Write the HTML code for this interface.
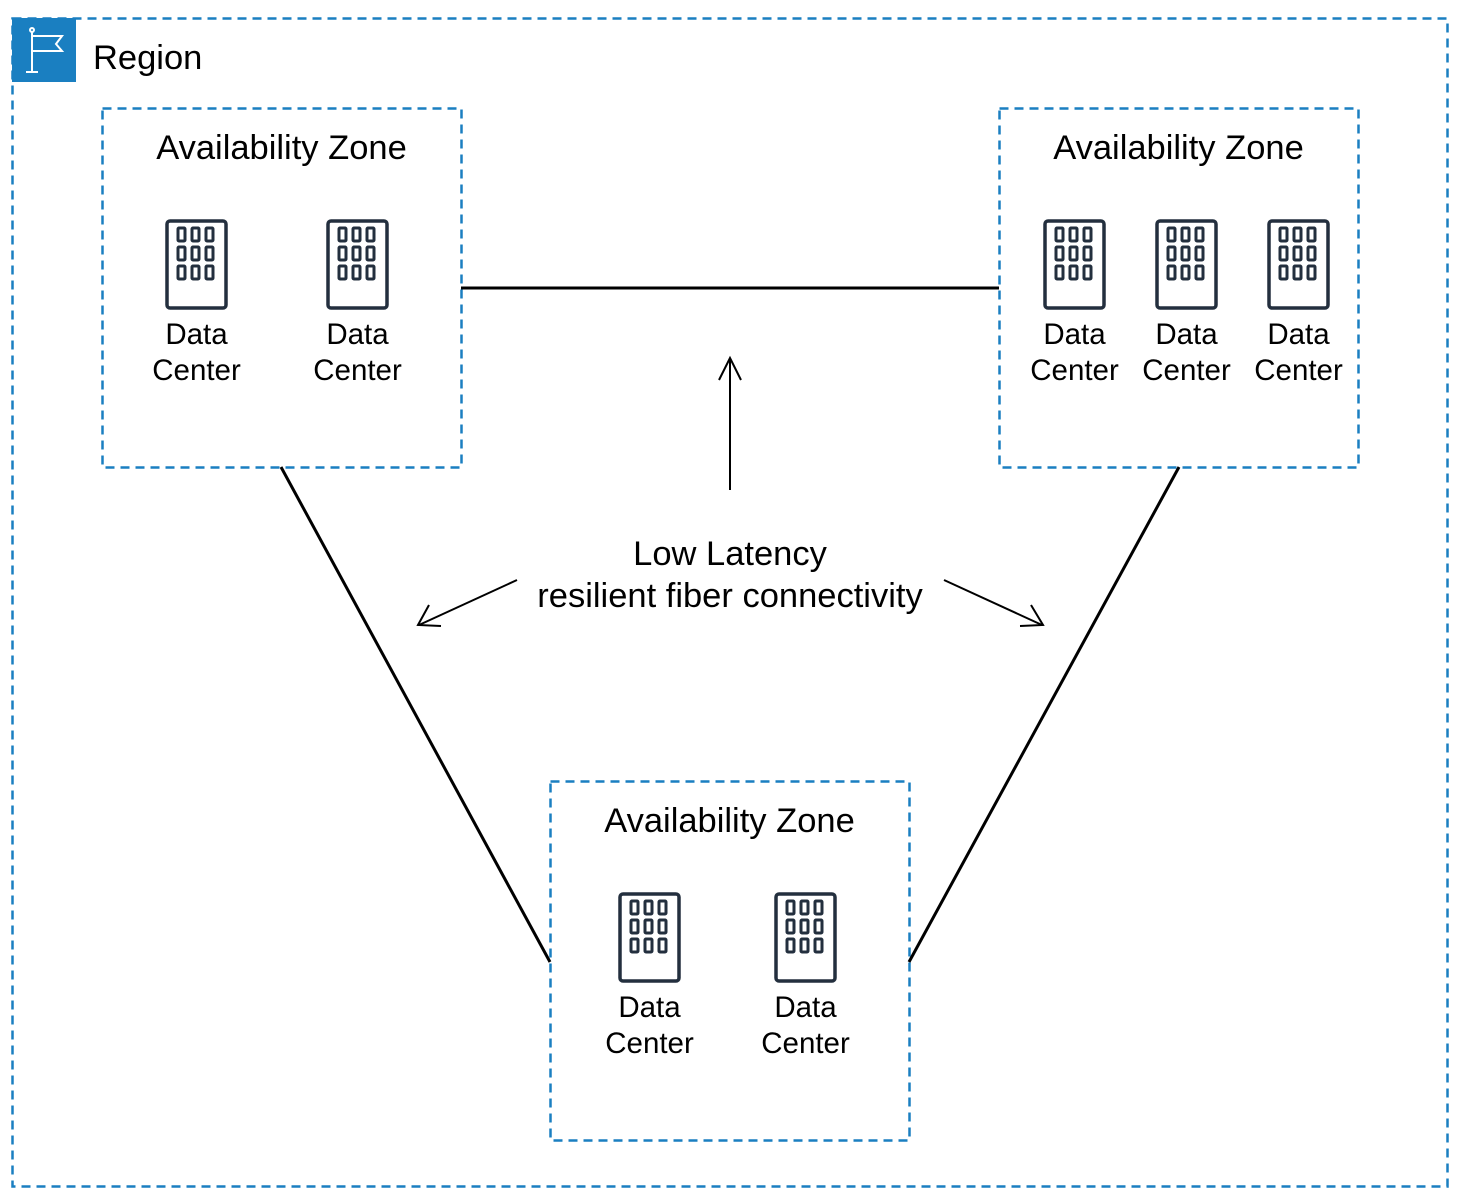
<!DOCTYPE html>
<html><head><meta charset="utf-8"><style>
html,body{margin:0;padding:0;background:#fff;}
svg{display:block;}
text{font-family:"Liberation Sans",Arial,sans-serif;fill:#000;}
</style></head><body>
<svg width="1462" height="1204" viewBox="0 0 1462 1204" xmlns="http://www.w3.org/2000/svg">
<defs>
<g id="dc">
<rect x="-29.5" y="1" width="59" height="87" rx="3" fill="none" stroke="#232f3e" stroke-width="3.5"/>
<g fill="none" stroke="#232f3e" stroke-width="3">
<rect x="-18.5" y="8" width="7" height="13" rx="1"/><rect x="-4.5" y="8" width="7" height="13" rx="1"/><rect x="9.5" y="8" width="7" height="13" rx="1"/>
<rect x="-18.5" y="27" width="7" height="13" rx="1"/><rect x="-4.5" y="27" width="7" height="13" rx="1"/><rect x="9.5" y="27" width="7" height="13" rx="1"/>
<rect x="-18.5" y="46" width="7" height="13" rx="1"/><rect x="-4.5" y="46" width="7" height="13" rx="1"/><rect x="9.5" y="46" width="7" height="13" rx="1"/>
</g>
<text x="0" y="124" font-size="29.5" text-anchor="middle">Data</text>
<text x="0" y="160" font-size="29.5" text-anchor="middle">Center</text>
</g>
</defs>
<g fill="none" stroke="#1a7fc1" stroke-width="2.5" stroke-dasharray="9,6">
<rect x="12.5" y="18.5" width="1435" height="1168"/>
<rect x="102.5" y="108.5" width="359" height="359"/>
<rect x="999.5" y="108.5" width="359" height="359"/>
<rect x="550.5" y="781.5" width="359" height="359"/>
</g>
<rect x="12" y="18" width="64" height="64" fill="#1a7fc1"/>
<g stroke="#fff" stroke-width="2" fill="none">
<line x1="32" y1="32" x2="32" y2="72"/>
<line x1="26" y1="72" x2="38" y2="72"/>
<circle cx="32" cy="30" r="2"/>
<path d="M32 36 H62 L56 44 L62 51 H32"/>
</g>
<text x="93" y="69" font-size="34.5">Region</text>
<text x="281.5" y="159" font-size="34.5" text-anchor="middle">Availability Zone</text>
<text x="1178.5" y="159" font-size="34.5" text-anchor="middle">Availability Zone</text>
<text x="729.5" y="832" font-size="34.5" text-anchor="middle">Availability Zone</text>
<use href="#dc" x="196.5" y="220"/>
<use href="#dc" x="357.5" y="220"/>
<use href="#dc" x="1074.5" y="220"/>
<use href="#dc" x="1186.5" y="220"/>
<use href="#dc" x="1298.5" y="220"/>
<use href="#dc" x="649.5" y="893"/>
<use href="#dc" x="805.5" y="893"/>
<g stroke="#000" fill="none">
<line x1="461" y1="288" x2="999" y2="288" stroke-width="3"/>
<line x1="281" y1="467" x2="550" y2="962" stroke-width="3"/>
<line x1="1179" y1="467" x2="909" y2="962" stroke-width="3"/>
<g stroke-width="2">
<line x1="730" y1="490" x2="730" y2="358"/>
<path d="M719 380 L730 358 L741 380"/>
<line x1="517" y1="580" x2="419" y2="625"/>
<path d="M429 605 L418 625 L441 626"/>
<line x1="944" y1="580" x2="1042" y2="625"/>
<path d="M1031 605 L1043 625 L1020 626"/>
</g>
</g>
<text x="730" y="565" font-size="34.5" text-anchor="middle">Low Latency</text>
<text x="730" y="607" font-size="34.5" text-anchor="middle">resilient fiber connectivity</text>
</svg>
</body></html>
